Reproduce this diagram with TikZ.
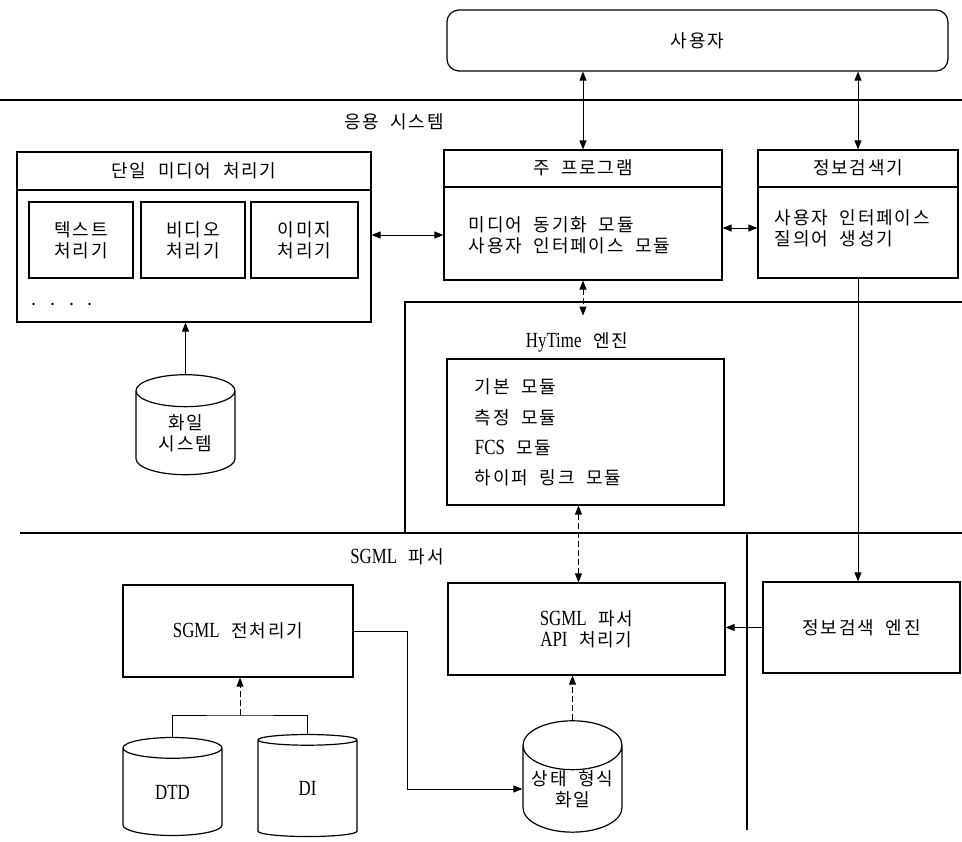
\documentclass[tikz,border=0pt]{standalone}
\usepackage{fontspec}
\setmainfont{Noto Sans CJK KR}[LetterSpace=10,WordSpace=2]
\newfontfamily\lat{Liberation Serif}[Scale=1.2,FakeStretch=0.78]
\usetikzlibrary{arrows.meta, shapes.geometric}

\begin{document}
\begin{tikzpicture}[x=1pt, y=-1pt, font=\fontsize{18}{21}\selectfont, line width=1.2pt,
  box/.style={draw, rectangle, inner sep=0pt, align=center},
  drum/.style={draw, cylinder, shape border rotate=90, aspect=0.6, minimum width=99pt, inner sep=0pt, align=center},
  conn/.style={line width=0.9pt},
  arr/.style={conn, -{Triangle[length=9pt,width=7pt]}},
  dbl/.style={conn, {Triangle[length=9pt,width=7pt]}-{Triangle[length=9pt,width=7pt]}},
  dashline/.style={dash pattern=on 6pt off 3pt}]
\useasboundingbox (0,0) rectangle (962,842);
%\draw[step=50,gray,very thin] (0,0) grid (962,842); %background grid

% layers
\draw (0,100) -- (962,100);
\draw (962,302) -- (405,302) -- (405,533);
\draw (20,533) -- (962,533);
\draw (747,533) -- (747,830);
\node (appl) at (394,122) {응용 시스템};
\node (hylab) at (577,342) {{\lat HyTime} 엔진};
\node (sglab) at (397,557) {{\lat SGML} 파서};

% user
\node[box, rounded corners=12pt, minimum width=501pt, minimum height=61pt] (usr) at (697.5,40.5) {사용자};

% single media
\node[box, minimum width=354pt, minimum height=170pt] (single) at (194,237) {};
\draw (single.west |- 0,190) -- (single.east |- 0,190);
\node (singlet) at (194,171) {단일 미디어 처리기};
\node[box, minimum width=104pt, minimum height=76pt] (txt) at (81,240) {텍스트\\처리기};
\node[box, minimum width=104pt, minimum height=76pt] (vid) at (193,240) {비디오\\처리기};
\node[box, minimum width=107pt, minimum height=76pt] (img) at (304.5,240) {이미지\\처리기};
\node[anchor=west] (dots) at (28,304) {. . . .};
\node[drum, minimum height=100pt] (fsys) at (185.5,433) {화일\\시스템};

% main program
\node[box, minimum width=278pt, minimum height=130pt] (main) at (583,215) {};
\draw (main.west |- 0,187) -- (main.east |- 0,187);
\node (maint) at (583,168) {주 프로그램};
\node[anchor=west, align=left] (mainm) at (465,235) {미디어 동기화 모듈\\사용자 인터페이스 모듈};

% retrieval
\node[box, minimum width=200pt, minimum height=128pt] (search) at (858,214) {};
\draw (search.west |- 0,187) -- (search.east |- 0,187);
\node (searcht) at (858,168) {정보검색기};
\node[anchor=west, align=left] (searchm) at (771,228) {사용자 인터페이스\\질의어 생성기};

% hytime
\node[box, minimum width=277pt, minimum height=146pt] (hyt) at (585.5,432) {};
\node[anchor=west] (hyt1) at (471,387) {기본 모듈};
\node[anchor=west] (hyt2) at (471,418) {측정 모듈};
\node[anchor=west] (hyt3) at (471,448) {{\lat FCS} 모듈};
\node[anchor=west] (hyt4) at (471,478) {하이퍼 링크 모듈};

% sgml
\node[box, minimum width=230pt, minimum height=92pt] (prep) at (238,631) {{\lat SGML} 전처리기};
\node[box, minimum width=277pt, minimum height=92pt] (api) at (586.5,629) {{\lat SGML} 파서\\{\lat API} 처리기};
\node[box, minimum width=197pt, minimum height=91pt] (engine) at (861.5,627.5) {정보검색 엔진};
\node[drum, minimum height=98pt] (dtd) at (172.5,792) {\lat DTD};
\node[drum, minimum height=102pt] (di) at (307.5,788.5) {\lat DI};
\node[drum, minimum height=98pt] (state) at (572.5,789) {상태 형식\\화일};
\coordinate (join) at (240,715);

% connectors
\draw[dbl] (main.north |- usr.south) -- (main.north);
\draw[dbl] (search.north |- usr.south) -- (search.north);
\draw[dbl] (single.east |- 0,235) -- (main.west |- 0,235);
\draw[dbl] (main.east |- 0,228) -- (search.west |- 0,228);
\draw[arr] (fsys.north) -- (fsys.north |- single.south);
\draw[dbl, dashline] (main.south) -- ++(0,35);
\draw[dbl, dashline] ([xshift=-7pt]hyt.south) -- ([xshift=-7pt]hyt.south |- api.north);
\draw[arr] (search.south) -- (search.south |- engine.north);
\draw[arr] (engine.west) -- (engine.west -| api.east);
\draw[conn] (dtd.north) |- (join) -| (di.north);
\draw[arr, dashline] (join) -- (join |- prep.south);
\draw[arr] (prep.east) -- ++(54,0) |- (state.west);
\draw[arr, dashline] (state.north) -- (state.north |- api.south);
\end{tikzpicture}
\end{document}
